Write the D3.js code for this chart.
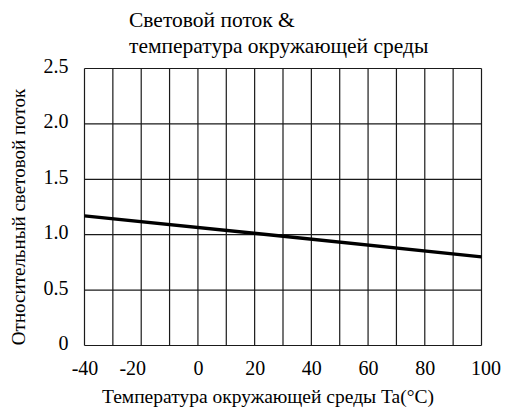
<!DOCTYPE html>
<html>
<head>
<meta charset="utf-8">
<script src="https://cdn.jsdelivr.net/npm/d3@7"></script>
<style>
  html, body { margin: 0; padding: 0; background: #fff; }
  svg text { font-family: "Liberation Serif", "Times New Roman", serif; fill: #000; }
</style>
</head>
<body>
<svg id="chart" width="506" height="410"></svg>
<script>
// Relative luminous flux vs. ambient temperature
const temperatures = [-40, 25, 100];
const fluxValues = [1.17, 1.0, 0.8];
const xTicks = [-40, -20, 0, 20, 40, 60, 80, 100];
const xTickLabels = ["-40", "-20", "0", "20", "40", "60", "80", "100"];
const yTicks = [0, 0.5, 1.0, 1.5, 2.0, 2.5];
const yTickLabels = ["0", "0.5", "1.0", "1.5", "2.0", "2.5"];
const xGrid = d3.range(-40, 101, 10);
const titleLines = ["Световой поток &", "температура окружающей среды"];
const xTitle = "Температура окружающей среды Ta(°C)";
const yTitle = "Относительный световой поток";

const svg = d3.select("#chart");
const margin = { left: 84.5, right: 24.5, top: 68.5, bottom: 64.5 };
const W = 506, H = 410;
const FONT = "Liberation Serif";

const x = d3.scaleLinear().domain([-40, 100]).range([margin.left, W - margin.right]);
const y = d3.scaleLinear().domain([0, 2.5]).range([H - margin.bottom, margin.top]);

// grid
const grid = svg.append("g").attr("stroke", "#1a1a1a").attr("stroke-width", 1.2);
grid.selectAll("line.v").data(xGrid).join("line")
  .attr("x1", d => x(d)).attr("x2", d => x(d))
  .attr("y1", y(0)).attr("y2", y(2.5));
grid.selectAll("line.h").data(yTicks).join("line")
  .attr("x1", x(-40)).attr("x2", x(100))
  .attr("y1", d => y(d)).attr("y2", d => y(d));

// x axis labels (the -20 and 100 labels sit slightly off their ticks)
const xLabelShift = t => (t === -20 ? -9 : t === 100 ? 4 : 0);
const xAxis = d3.axisBottom(x).tickValues(xTicks)
  .tickFormat((d, i) => xTickLabels[i]).tickSize(0).tickPadding(15);
const gx = svg.append("g").attr("transform", `translate(0,${y(0)})`).call(xAxis);
gx.attr("font-family", FONT).attr("font-size", 20);
gx.select(".domain").remove();
gx.selectAll(".tick text").attr("dx", d => xLabelShift(d));

// y axis labels
const yAxis = d3.axisLeft(y).tickValues(yTicks)
  .tickFormat((d, i) => yTickLabels[i]).tickSize(0).tickPadding(16);
const gy = svg.append("g").attr("transform", `translate(${x(-40)},0)`).call(yAxis);
gy.attr("font-family", FONT).attr("font-size", 20);
gy.select(".domain").remove();
gy.selectAll("text").attr("dy", "0.2em");

// curve
const line = d3.line().x(d => x(d[0])).y(d => y(d[1]));
svg.append("path")
  .datum(temperatures.map((t, i) => [t, fluxValues[i]]))
  .attr("d", line)
  .attr("fill", "none").attr("stroke", "#000").attr("stroke-width", 3.4);

// titles
svg.append("text")
  .attr("font-size", 21.5)
  .selectAll("tspan").data(titleLines).join("tspan")
  .attr("x", 129).attr("y", (d, i) => 27 + i * 26).text(d => d);

svg.append("text").attr("x", 102).attr("y", 403)
  .attr("font-size", 19.5).text(xTitle);

svg.append("text")
  .attr("transform", `translate(25,217) rotate(-90)`)
  .attr("text-anchor", "middle").attr("font-size", 19).text(yTitle);
</script>
</body>
</html>
